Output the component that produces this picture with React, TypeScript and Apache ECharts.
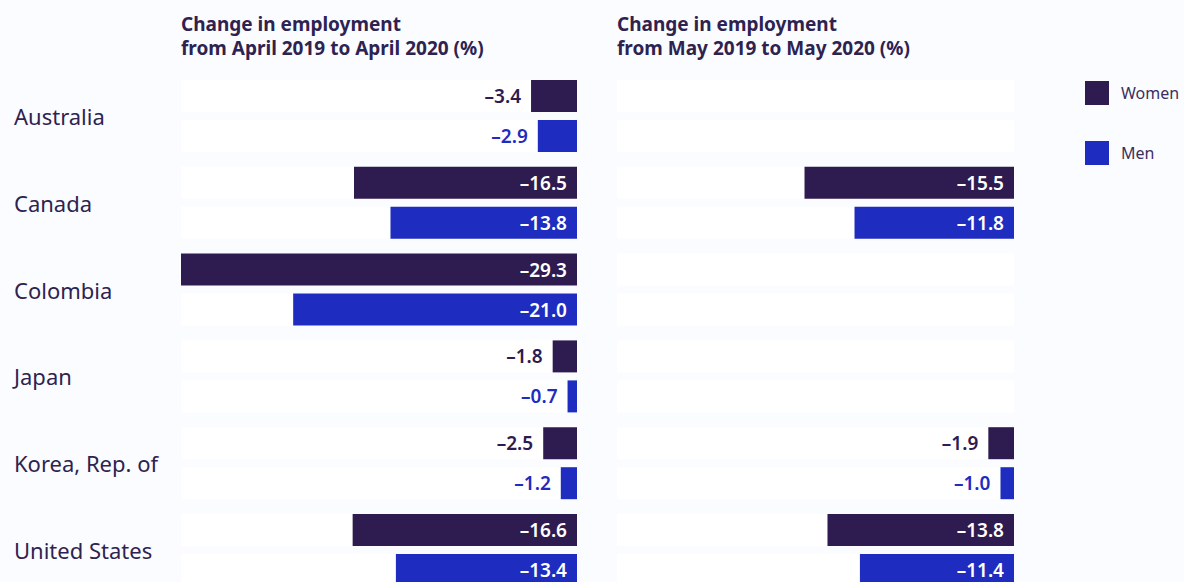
import React, { useEffect, useRef } from "react";
import * as echarts from "echarts";

const countries = ["Australia", "Canada", "Colombia", "Japan", "Korea, Rep. of", "United States"];
const aprilWomen = [-3.4, -16.5, -29.3, -1.8, -2.5, -16.6];
const aprilMen = [-2.9, -13.8, -21.0, -0.7, -1.2, -13.4];
const mayWomen: (number | null)[] = [null, -15.5, null, null, -1.9, -13.8];
const mayMen: (number | null)[] = [null, -11.8, null, null, -1.0, -11.4];
const panelTitles = [
  "Change in employment\nfrom April 2019 to April 2020 (%)",
  "Change in employment\nfrom May 2019 to May 2020 (%)",
];

const WOMEN = "#2e1b4f";
const MEN = "#1e2cbf";
const TEXT = "#2e2350";
const FONT = "'Noto Sans', 'Open Sans', sans-serif";

function fmt(v: number) {
  return "\u2013" + Math.abs(v).toFixed(1);
}

function buildData(values: (number | null)[], color: string) {
  return values.map((v) => {
    if (v === null) return { value: null };
    const inside = Math.abs(v) > 8;
    return {
      value: v,
      label: {
        show: true,
        position: inside ? "insideRight" : "left",
        distance: 10,
        color: inside ? "#ffffff" : color,
        fontSize: 19,
        fontWeight: 600,
        fontFamily: FONT,
        formatter: () => fmt(v),
      },
    };
  });
}

function series(name: string, idx: number, values: (number | null)[], color: string) {
  return {
    name,
    type: "bar",
    xAxisIndex: idx,
    yAxisIndex: idx,
    barWidth: 32,
    barGap: "25%",
    itemStyle: { color },
    showBackground: true,
    backgroundStyle: { color: "#ffffff", opacity: 1 },
    data: buildData(values, color),
  };
}

export default function App() {
  const ref = useRef<HTMLDivElement>(null);
  useEffect(() => {
    if (!ref.current) return;
    const chart = echarts.init(ref.current, undefined, { renderer: "svg" });
    const gridTop = 72.6;
    const gridHeight = 520.8;
    const titleStyle = { fontSize: 19, fontWeight: "bold", color: TEXT, lineHeight: 24, fontFamily: FONT };
    chart.setOption({
      animation: false,
      backgroundColor: "#fbfcff",
      textStyle: { fontFamily: FONT },
      title: [
        { text: panelTitles[0], left: 181, top: 12, padding: 0, textStyle: titleStyle },
        { text: panelTitles[1], left: 617, top: 12, padding: 0, textStyle: titleStyle },
      ],
      legend: {
        data: ["Women", "Men"],
        orient: "vertical",
        left: 1085,
        top: 81,
        padding: 0,
        itemWidth: 24,
        itemHeight: 24,
        itemGap: 36,
        icon: "rect",
        textStyle: { fontSize: 16, color: "#3a2f5c", fontFamily: FONT, padding: [0, 0, 0, 7] },
      },
      grid: [
        { left: 181, top: gridTop, width: 396, height: gridHeight },
        { left: 617, top: gridTop, width: 397, height: gridHeight },
      ],
      xAxis: [
        { type: "value", gridIndex: 0, min: -29.3, max: 0, show: false },
        { type: "value", gridIndex: 1, min: -29.3 * 397 / 396, max: 0, show: false },
      ],
      yAxis: [
        {
          type: "category",
          gridIndex: 0,
          data: countries,
          inverse: true,
          axisLine: { show: false },
          axisTick: { show: false },
          splitLine: { show: false },
          axisLabel: {
            align: "left",
            margin: 167,
            fontSize: 22,
            color: TEXT,
            fontFamily: FONT,
            padding: [0, 0, 4, 0],
          },
        },
        {
          type: "category",
          gridIndex: 1,
          data: countries,
          inverse: true,
          axisLine: { show: false },
          axisTick: { show: false },
          splitLine: { show: false },
          axisLabel: { show: false },
        },
      ],
      series: [
        series("Women", 0, aprilWomen, WOMEN),
        series("Men", 0, aprilMen, MEN),
        series("Women", 1, mayWomen, WOMEN),
        series("Men", 1, mayMen, MEN),
      ],
    });
    return () => chart.dispose();
  }, []);
  return (
    <div
      ref={ref}
      style={{ position: "fixed", left: 0, top: 0, width: 1184, height: 620 }}
    />
  );
}
